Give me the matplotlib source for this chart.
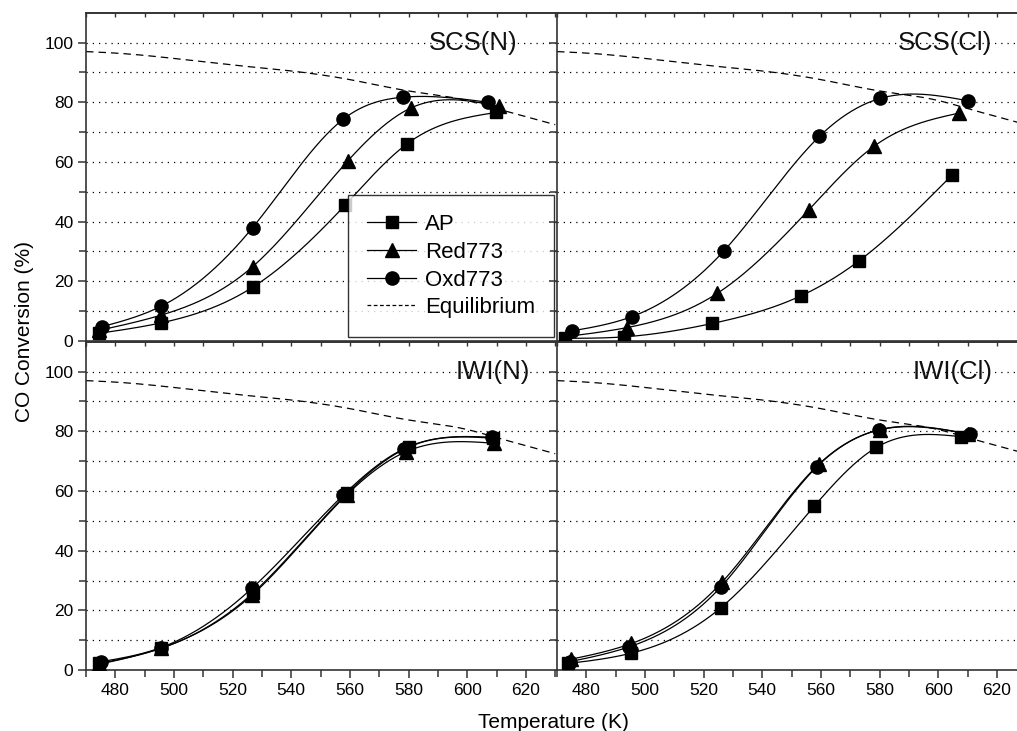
import numpy as np
import matplotlib.pyplot as plt
from matplotlib.ticker import MultipleLocator
from matplotlib.lines import Line2D

plt.rcParams['font.family'] = ['Liberation Sans', 'DejaVu Sans']

# readings from the reference: (temperature K, CO conversion %)
scs_n = {
    'AP':     ([474.6, 495.7, 526.8, 558.4, 579.5, 609.8], [2.6, 6.1, 18.0, 45.6, 66.1, 76.6]),
    'Red773': ([474.6, 495.7, 526.8, 559.3, 580.8, 610.9], [3.6, 8.7, 24.9, 60.4, 78.1, 78.6]),
    'Oxd773': ([475.5, 495.7, 526.8, 557.8, 578.0, 607.1], [4.8, 11.7, 38.0, 74.4, 81.7, 80.0]),
}
scs_cl = {
    'AP':     ([472.6, 493.0, 523.0, 553.1, 572.9, 604.8], [0.9, 1.4, 5.9, 15.1, 26.8, 55.7]),
    'Red773': ([473.2, 493.9, 524.7, 555.9, 578.0, 607.1], [1.5, 4.5, 16.0, 44.0, 65.2, 76.4]),
    'Oxd773': ([475.2, 495.6, 527.0, 559.5, 580.2, 610.2], [3.4, 8.2, 30.3, 68.6, 81.3, 80.5]),
}
iwi_n = {
    'AP':     ([474.6, 495.7, 526.8, 559.0, 580.0, 608.8], [2.2, 7.3, 25.7, 59.2, 74.7, 77.7]),
    'Red773': ([474.4, 495.5, 526.6, 559.0, 579.2, 609.2], [1.9, 7.3, 25.1, 58.8, 73.2, 76.0]),
    'Oxd773': ([475.2, 495.5, 526.6, 557.8, 578.3, 608.6], [2.8, 7.5, 27.4, 58.7, 74.1, 78.0]),
}
iwi_cl = {
    'AP':     ([473.8, 495.1, 525.9, 557.8, 578.9, 607.8], [2.2, 5.6, 20.9, 55.0, 74.6, 78.2]),
    'Red773': ([474.7, 495.4, 526.4, 559.3, 580.0, 610.2], [3.6, 8.9, 29.6, 69.0, 80.5, 79.1]),
    'Oxd773': ([474.4, 494.7, 525.9, 558.7, 579.7, 610.8], [2.8, 7.8, 27.9, 68.2, 80.5, 79.0]),
}

eq_T = [470, 480, 500, 520, 540, 560, 580, 600, 610, 620, 630]
eq_conv = [97.0, 96.5, 94.7, 92.5, 90.5, 87.6, 83.8, 80.6, 77.9, 75.2, 72.5]

panel_names = ['SCS(N)', 'SCS(Cl)', 'IWI(N)', 'IWI(Cl)']
panel_data = [scs_n, scs_cl, iwi_n, iwi_cl]
series = ['AP', 'Red773', 'Oxd773']
markers = {'AP': 's', 'Red773': '^', 'Oxd773': 'o'}
msizes = {'AP': 8.5, 'Red773': 9.5, 'Oxd773': 9.5}


def spline(x, y, n=300):
    # natural cubic spline through the measured points
    x = np.asarray(x, float)
    y = np.asarray(y, float)
    k = len(x)
    h = np.diff(x)
    A = np.zeros((k, k))
    b = np.zeros(k)
    A[0, 0] = A[-1, -1] = 1
    for i in range(1, k - 1):
        A[i, i - 1] = h[i - 1]
        A[i, i] = 2 * (h[i - 1] + h[i])
        A[i, i + 1] = h[i]
        b[i] = 6 * ((y[i + 1] - y[i]) / h[i] - (y[i] - y[i - 1]) / h[i - 1])
    M = np.linalg.solve(A, b)
    xs = np.linspace(x[0], x[-1], n)
    j = np.clip(np.searchsorted(x, xs) - 1, 0, k - 2)
    t0 = x[j + 1] - xs
    t1 = xs - x[j]
    ys = (M[j] * t0**3 + M[j + 1] * t1**3) / (6 * h[j]) \
        + (y[j] / h[j] - M[j] * h[j] / 6) * t0 \
        + (y[j + 1] / h[j] - M[j + 1] * h[j] / 6) * t1
    return xs, ys


fig = plt.figure(figsize=(10.17, 7.31), dpi=100)
W = 471 / 1017
H = 0.449
pos = [(86 / 1017, 0.5335), (557 / 1017, 0.5335), (86 / 1017, 0.0834), (557 / 1017, 0.0834)]
label_x = [0.917, 0.923, 0.943, 0.925]
spine_col = '#333333'

axes = []
for idx, (x0, y0) in enumerate(pos):
    ax = fig.add_axes([x0, y0, W, H])
    axes.append(ax)
    ax.set_xlim(470, 630.6)
    ax.set_ylim(0, 110)
    ax.xaxis.set_major_locator(MultipleLocator(20))
    ax.xaxis.set_minor_locator(MultipleLocator(10))
    ax.tick_params(which='major', direction='out', length=6, width=1.1, color=spine_col,
                   labelsize=12.5, pad=3)
    ax.tick_params(which='minor', direction='out', length=5, width=1.1, color=spine_col)
    for s in ax.spines.values():
        s.set_color(spine_col)
        s.set_linewidth(1.2)
    ax.spines['right'].set_visible(False)
    if idx % 2 == 1:
        ax.tick_params(axis='y', labelleft=False)
    if idx < 2:
        ax.tick_params(axis='x', labelbottom=False)
    ax.set_yticks([20, 40, 60, 80, 100] if idx % 2 else [0, 20, 40, 60, 80, 100])
    ax.set_yticks([10, 30, 50, 70, 90], minor=True)

    top = ax.secondary_xaxis('top')
    top.xaxis.set_major_locator(MultipleLocator(10))
    top.tick_params(direction='in', length=3, width=1, color=spine_col, labeltop=False)
    top.spines['top'].set_color(spine_col)
    top.spines['top'].set_linewidth(1.2)

    for g in range(10, 101, 10):
        ax.axhline(g, color='black', lw=0.9, ls=(0, (1, 4)), zorder=1)

    ax.plot(*spline(eq_T, eq_conv), color='black', lw=0.9, ls=(0, (6, 4)), zorder=2)

    d = panel_data[idx]
    for name in series:
        t, c = d[name]
        xs, ys = spline(t, c)
        ax.plot(xs, ys, color='black', lw=0.9, zorder=3)
        ax.plot(t, c, ls='none', marker=markers[name], ms=msizes[name], color='black', zorder=4)

    ax.text(label_x[idx], 100, panel_names[idx], transform=ax.get_yaxis_transform(),
            ha='right', va='center', fontsize=18.5, color='#111111', zorder=5)

# legend in the first panel
handles = [Line2D([], [], color='black', lw=0.9, marker=markers[n], ms=msizes[n]) for n in series]
handles.append(Line2D([], [], color='black', lw=0.9, ls=(0, (3, 2))))
leg = axes[0].legend(handles, series + ['Equilibrium'], loc='lower right',
                     bbox_to_anchor=(0.994, 0.012), fontsize=16, frameon=True, fancybox=False,
                     edgecolor='black', handlelength=2.2, handletextpad=0.4, labelspacing=0.3,
                     borderpad=0.85, borderaxespad=0)
leg.get_frame().set_linewidth(1.0)
leg.set_zorder(10)

fig.text(553 / 1017, 1 - 722 / 731, 'Temperature (K)', ha='center', va='center', fontsize=15)
fig.text(25 / 1017, 1 - 331 / 731, 'CO Conversion (%)', ha='center', va='center',
         rotation=90, fontsize=15)

fig.savefig('out.png', dpi=100)
